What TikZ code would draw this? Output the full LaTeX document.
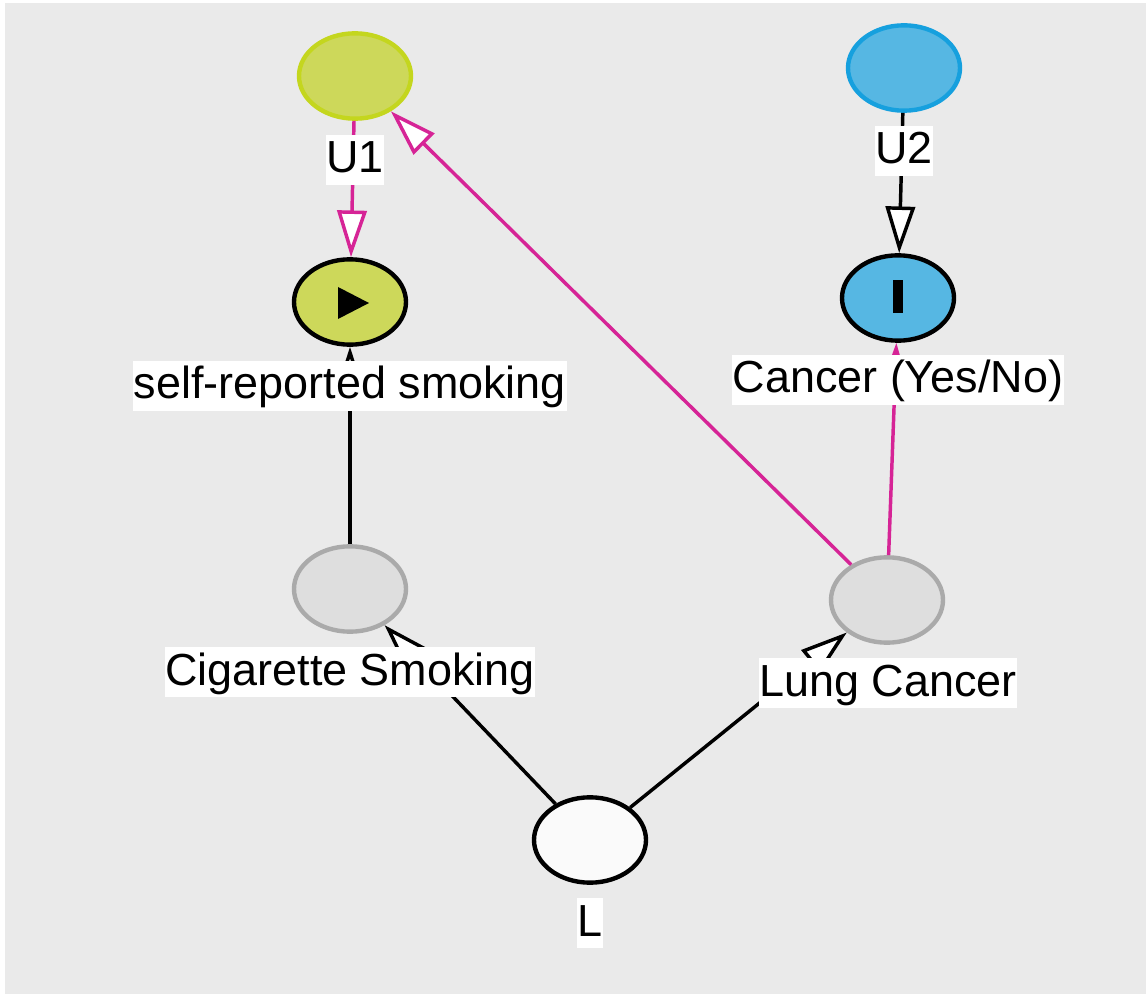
\documentclass[tikz,border=0pt]{standalone}
\usepackage{fontspec}
\setmainfont{Liberation Sans}
\usetikzlibrary{arrows.meta,shapes.geometric}

\definecolor{bggray}{RGB}{234,234,234}
\definecolor{olivefill}{RGB}{205,216,90}
\definecolor{oliveline}{RGB}{196,214,30}
\definecolor{bluefill}{RGB}{86,183,227}
\definecolor{blueline}{RGB}{22,160,222}
\definecolor{greyfill}{RGB}{222,222,222}
\definecolor{greyline}{RGB}{170,170,170}
\definecolor{magentaline}{RGB}{214,36,150}

\tikzset{
  var/.style={ellipse, line width=3.3pt, minimum width=84pt, minimum height=64pt, inner sep=0pt},
  latent/.style={var, draw=oliveline, fill=olivefill},
  latentb/.style={var, draw=blueline, fill=bluefill},
  hidden/.style={var, draw=greyline, fill=greyfill},
  observed/.style={var, draw=black},
  varlabel/.style={fill=white, inner xsep=0.5pt, inner ysep=0.5pt, text height=28pt, text depth=8.5pt,
    font=\fontsize{33.7}{40}\selectfont},
  edge/.style={line width=2.6pt, -{Triangle[length=35pt,width=22pt,fill=white]}},
  biasedge/.style={edge, draw=magentaline},
}

\begin{document}
\begin{tikzpicture}[x=0.75pt,y=0.75pt,yscale=-1,xscale=1]
\useasboundingbox (0,0) rectangle (1146,994);
\fill[bggray] (5,3) rectangle (1146,994);

% Ellipses
\node[latent] (u1) at (355,76) {};
\node[latentb] (u2) at (904,68) {};
\node[observed, fill=olivefill] (selfrep) at (350,302) {};
\node[observed, fill=bluefill] (cancer) at (898,298) {};
\node[hidden] (cig) at (350,589) {};
\node[hidden] (lung) at (887,600) {};
\node[observed, fill={rgb,255:red,250;green,250;blue,250}] (l) at (590,840) {};

% Marks inside the observed nodes
\fill (338,287) -- (369,303) -- (338,319) -- cycle;
\fill (893,280) rectangle (903,313);

% Arrows
\draw[biasedge] (u1) -- (selfrep);
\draw[edge] (u2) -- (cancer);
\draw[edge] (cig) -- (selfrep);
\draw[biasedge] (lung) -- (cancer);
\draw[biasedge] (lung) -- (u1);
\draw[edge] (l) -- (cig);
\draw[edge] (l) -- (lung);

% Text Nodes
\node[varlabel] (u1lab) at (355,160) {U1};
\node[varlabel] (u2lab) at (904,151) {U2};
\node[varlabel] (selfreplab) at (350,386) {self-reported smoking};
\node[varlabel] (cancerlab) at (898,380) {Cancer (Yes/No)};
\node[varlabel] (ciglab) at (350,672) {Cigarette Smoking};
\node[varlabel] (lunglab) at (888,683) {Lung Cancer};
\node[varlabel] (llab) at (590,923) {L};
\end{tikzpicture}
\end{document}
